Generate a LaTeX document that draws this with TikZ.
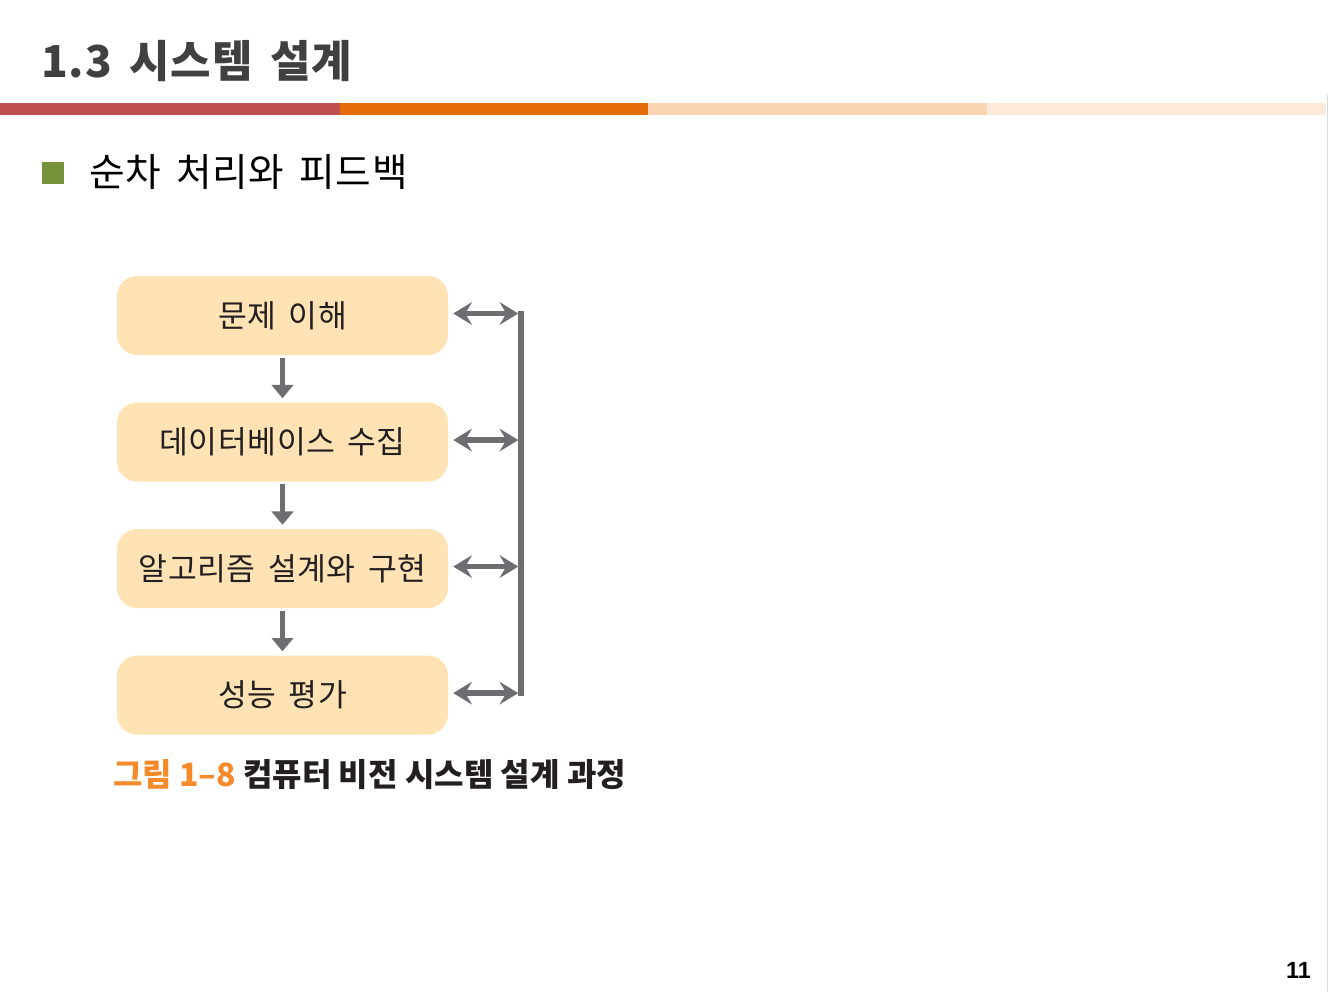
\documentclass[tikz,border=0pt]{standalone}
\usepackage{fontspec}
\setmainfont{Noto Sans CJK KR}
\newfontfamily\NumFont{Liberation Sans}
\newfontfamily\WideFont[WordSpace=1.6,LetterSpace=2]{Noto Sans CJK KR}
\usetikzlibrary{positioning,arrows.meta}
\definecolor{BarRed}{HTML}{C0504D}
\definecolor{BarOrange}{HTML}{E36C09}
\definecolor{BarPeach}{HTML}{FCD5B4}
\definecolor{BarLight}{HTML}{FDE9D9}
\definecolor{BulletGreen}{HTML}{77933C}
\definecolor{TitleGray}{HTML}{404040}
\definecolor{StageFill}{HTML}{FFE3B5}
\definecolor{StageText}{HTML}{231F20}
\definecolor{LinkGray}{HTML}{6D6E71}
\definecolor{CapOrange}{HTML}{F58A2A}
\newcommand{\FigLabel}{\textcolor{CapOrange}{그림 1–8}}
\newcommand{\FigName}{컴퓨터 비전 시스템 설계 과정}

\begin{document}
\begin{tikzpicture}[x=0.75pt,y=-0.75pt,node distance=35.25pt
    ,stage/.style = {fill=StageFill,rounded corners=15pt,minimum width=248.25pt,minimum height=59.25pt,inner sep=0pt
        ,font=\WideFont\fontsize{23.5}{28}\selectfont,text=StageText}
    ,flow/.style = {draw=LinkGray,line width=3.75pt,shorten <=2pt,shorten >=3pt
        ,-{Triangle[length=10pt,width=16pt]}}
    ,feedback/.style = {draw=LinkGray,line width=4pt,shorten <=3.75pt,shorten >=2.25pt
        ,{Stealth[length=14pt,width=17pt,inset=5pt]}-{Stealth[length=14pt,width=17pt,inset=5pt]}}
    ,bus/.style = {draw=LinkGray,line width=4.5pt,line cap=rect}
  ]
  \useasboundingbox (0,0) rectangle (1328,992);

  % header
  \node[anchor=base west,inner sep=0pt,text=TitleGray,font=\WideFont\fontsize{33}{40}\selectfont\bfseries] (title) at (41,77) {1.3 시스템 설계};
  \fill[BarRed] (0,103) rectangle (340,115);
  \fill[BarOrange] (340,103) rectangle (648,115);
  \fill[BarPeach] (648,103) rectangle (987,115);
  \fill[BarLight] (987,103) rectangle (1326,115);
  \draw[black!15,line width=0.75pt] (1327,95) -- (1327,992);

  \node[fill=BulletGreen,minimum size=16.5pt,inner sep=0pt] (bullet) at (53,172.5) {};
  \node[anchor=west,inner sep=0pt,font=\WideFont\fontsize{29}{34}\selectfont] (topic) at (89,172) {순차 처리와 피드백};

  % stages
  \node[stage] (s1) at (282.5,315.5) {문제 이해};
  \node[stage] (s2) [below=of s1] {데이터베이스 수집};
  \node[stage] (s3) [below=of s2] {알고리즘 설계와 구현};
  \node[stage] (s4) [below=of s3] {성능 평가};

  \draw[flow] (s1) -- (s2);
  \draw[flow] (s2) -- (s3);
  \draw[flow] (s3) -- (s4);

  % feedback
  \foreach \s in {1,...,4}
    \path (s\s.east) ++(73,-2) coordinate (b\s);
  \draw[bus] (b1) -- (b4);
  \foreach \s in {1,...,4}
    \draw[feedback] (s\s.east |- b\s) -- (b\s);

  \node[anchor=west,inner sep=0pt,font=\fontsize{24}{28}\selectfont\bfseries,text=StageText] (caption) at (113,775) {\FigLabel\ \FigName};

  \node[anchor=base east,inner sep=0pt,font=\NumFont\fontsize{17.5}{20}\selectfont\bfseries] (page) at (1311,978) {11};
\end{tikzpicture}
\end{document}
